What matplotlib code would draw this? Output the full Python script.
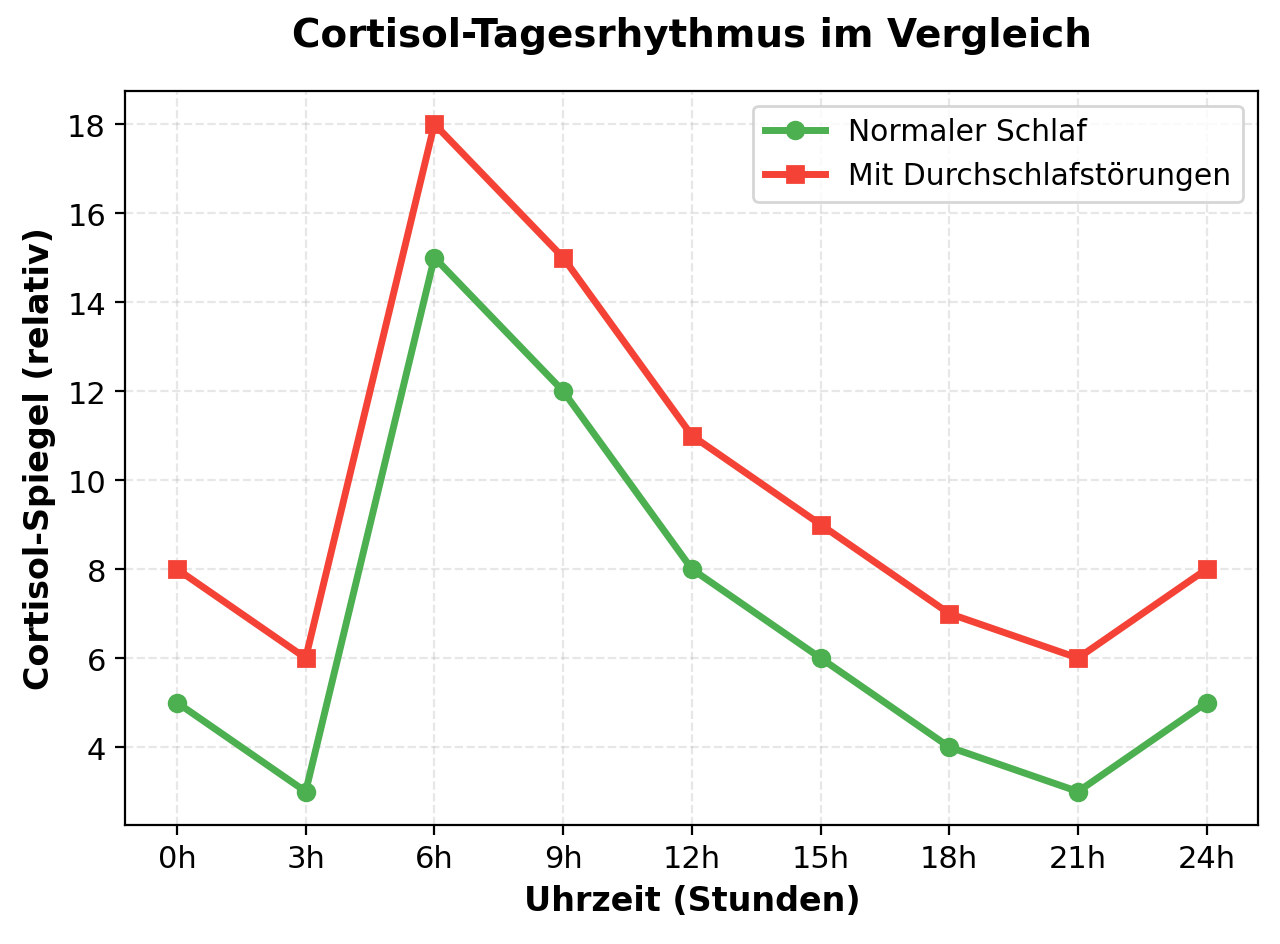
import matplotlib
matplotlib.use("Agg")
import matplotlib.pyplot as plt

# Daten
hours = ["0h", "3h", "6h", "9h", "12h", "15h", "18h", "21h", "24h"]
normal = [5, 3, 15, 12, 8, 6, 4, 3, 5]
disturbed = [8, 6, 18, 15, 11, 9, 7, 6, 8]

x = list(range(len(hours)))

fig, ax = plt.subplots(figsize=(6.4, 4.725), dpi=200)
fig.subplots_adjust(left=0.098, right=0.983, top=0.903, bottom=0.126)

ax.plot(x, normal, marker="o", color="#4CAF50", linewidth=2.5, markersize=6,
        label="Normaler Schlaf")
ax.plot(x, disturbed, marker="s", color="#F44336", linewidth=2.5, markersize=6,
        label="Mit Durchschlafstörungen")

ax.set_xticks(x)
ax.set_xticklabels(hours)
ax.tick_params(labelsize=11)
ax.set_xlabel("Uhrzeit (Stunden)", fontsize=12, fontweight="bold")
ax.set_ylabel("Cortisol-Spiegel (relativ)", fontsize=12, fontweight="bold")
ax.set_title("Cortisol-Tagesrhythmus im Vergleich", fontsize=14,
             fontweight="bold", pad=16)
ax.grid(True, linestyle="--", alpha=0.3)
ax.legend(fontsize=10.7, loc="upper right")

plt.savefig("out.png", dpi=200)
